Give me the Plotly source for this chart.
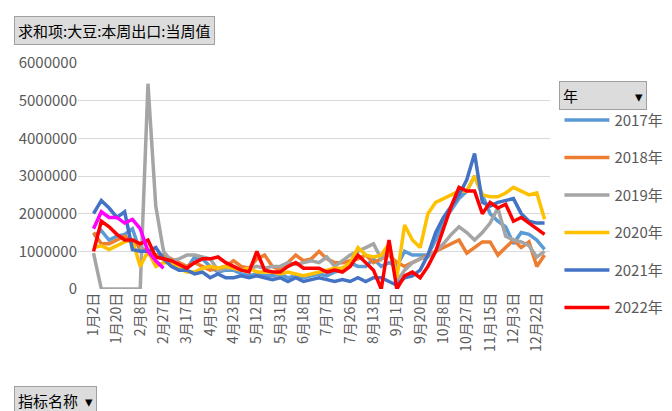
import plotly.graph_objects as go

tick_labels = ["1月2日","1月20日","2月8日","2月27日","3月17日","4月5日","4月23日","5月12日","5月31日","6月18日",
               "7月7日","7月26日","8月13日","9月1日","9月20日","10月8日","10月27日","11月15日","12月3日","12月22日"]
n_cat = 59

s2017 = [1.4,1.55,1.3,1.4,1.45,1.6,1.0,1.0,0.9,0.8,
         0.65,0.5,0.55,0.85,0.8,0.6,0.45,0.5,0.5,0.4,
         0.35,0.4,0.35,0.35,0.4,0.3,0.35,0.3,0.35,0.4,
         0.35,0.45,0.5,0.7,0.6,0.6,0.8,0.6,0.7,0.6,
         1.0,0.9,0.9,0.9,1.3,1.8,2.1,2.4,2.6,3.0,
         2.5,2.0,1.8,1.65,1.2,1.5,1.45,1.3,1.05]
s2018 = [1.5,1.2,1.2,1.3,1.4,1.3,1.1,1.0,0.9,0.9,
         0.8,0.7,0.6,0.7,0.6,0.5,0.55,0.6,0.75,0.6,
         0.55,0.8,0.9,0.6,0.5,0.7,0.9,0.75,0.8,1.0,
         0.8,0.7,0.7,0.75,0.8,0.9,0.7,0.8,0.9,0.7,
         0.6,0.7,0.8,0.9,1.0,1.1,1.2,1.3,0.95,1.1,
         1.25,1.25,0.9,1.1,1.3,1.1,1.25,0.6,0.9]
s2019 = [0.95,0,0,0,0,0,0,5.45,2.2,1.0,
         0.75,0.8,0.9,0.9,0.85,0.8,0.5,0.55,0.55,0.5,
         0.55,0.6,0.55,0.6,0.6,0.7,0.65,0.7,0.75,0.7,
         0.85,0.6,0.75,0.9,1.0,1.1,1.2,0.8,1.1,0.2,
         0.5,0.7,0.8,0.85,1.0,1.2,1.45,1.65,1.5,1.3,
         1.5,1.75,2.15,1.4,1.3,1.25,1.15,0.85,1.0]
s2020 = [1.1,1.15,1.05,1.15,1.25,1.3,0.6,1.0,0.6,0.7,
         0.7,0.55,0.45,0.45,0.55,0.6,0.55,0.6,0.55,0.5,
         0.55,0.45,0.45,0.45,0.4,0.45,0.4,0.35,0.4,0.45,
         0.5,0.55,0.55,0.7,1.1,0.9,0.85,0.9,1.2,0.3,
         1.7,1.3,1.1,2.0,2.3,2.4,2.5,2.6,2.6,3.0,
         2.5,2.45,2.45,2.55,2.7,2.6,2.5,2.55,1.85]
s2021 = [2.0,2.35,2.15,1.9,2.05,1.05,1.0,1.0,1.1,0.8,
         0.6,0.5,0.5,0.4,0.45,0.3,0.4,0.3,0.3,0.35,
         0.3,0.35,0.3,0.25,0.3,0.2,0.3,0.2,0.25,0.3,
         0.25,0.2,0.25,0.2,0.3,0.2,0.3,0.3,0.2,0.1,
         0.3,0.35,0.5,0.9,1.5,1.9,2.2,2.5,2.9,3.6,
         2.3,2.2,2.3,2.35,2.4,2.0,1.8,1.75,1.75]
s2022 = [1.0,1.8,1.65,1.45,1.3,1.3,1.2,1.3,0.85,0.8,
         0.75,0.65,0.55,0.7,0.8,0.8,0.85,0.7,0.6,0.5,
         0.45,1.0,0.5,0.45,0.45,0.6,0.7,0.55,0.55,0.55,
         0.45,0.5,0.45,0.6,0.9,0.7,0.5,0.0,1.3,0.0,
         0.35,0.45,0.3,0.6,1.0,1.6,2.2,2.7,2.6,2.6,
         2.0,2.3,2.15,2.25,1.8,1.9,1.75,1.6,1.45]
s2023 = [1.6,2.05,1.9,1.9,1.75,1.85,1.6,1.0,0.75,0.55]

series = [("2017年", s2017, "#5B9BD5"), ("2018年", s2018, "#ED7D31"), ("2019年", s2019, "#A5A5A5"),
          ("2020年", s2020, "#FFC000"), ("2021年", s2021, "#4472C4"), ("2022年", s2022, "#FF0000"),
          ("2023年", s2023, "#FF00FF")]

fig = go.Figure()
for name, vals, col in series:
    fig.add_trace(go.Scatter(x=list(range(len(vals))), y=[v * 1e6 for v in vals], mode="lines",
                             name=name, legendgroup=name, line=dict(color=col, width=3.5),
                             cliponaxis=False))

font = "Noto Sans CJK SC"
fig.update_layout(
    width=672, height=411, margin=dict(l=70, r=127, t=55, b=130),
    paper_bgcolor="white", plot_bgcolor="white",
    font=dict(family=font, color="#595959"),
    xaxis=dict(range=[-2, n_cat - 0.3], tickmode="array", tickvals=list(range(0, n_cat, 3)),
               ticktext=tick_labels, tickangle=-90, tickfont=dict(size=14), showgrid=False,
               zeroline=False, showline=False, automargin=False),
    yaxis=dict(range=[0, 6000000], dtick=1000000, tickformat="d", tickfont=dict(size=15),
               gridcolor="#D9D9D9", gridwidth=1.3, zeroline=False, automargin=False),
    legend=dict(x=1.02, y=0.82, xanchor="left", yanchor="top", font=dict(size=15, color="#595959"),
                tracegroupgap=15, itemwidth=45, bgcolor="rgba(0,0,0,0)"),
    showlegend=True,
)
fig.add_annotation(xref="paper", yref="paper", x=-0.135, y=1.145, xanchor="left", yanchor="middle",
                   text="求和项:大豆:本周出口:当周值", showarrow=False, font=dict(size=15, color="#000"),
                   bgcolor="#DCDCDC", bordercolor="#A0A0A0", borderwidth=1, borderpad=3)
fig.add_annotation(xref="paper", yref="paper", x=-0.135, y=-0.495, xanchor="left", yanchor="middle",
                   text="指标名称  ▾", showarrow=False, font=dict(size=15, color="#000"),
                   bgcolor="#DCDCDC", bordercolor="#A0A0A0", borderwidth=1, borderpad=3)
fig.add_annotation(xref="paper", yref="paper", x=1.02, y=0.855, xanchor="left", yanchor="middle",
                   text="年                 ▾", showarrow=False, font=dict(size=15, color="#000"),
                   bgcolor="#DCDCDC", bordercolor="#A0A0A0", borderwidth=1, borderpad=3)
fig.write_html("out.html")
